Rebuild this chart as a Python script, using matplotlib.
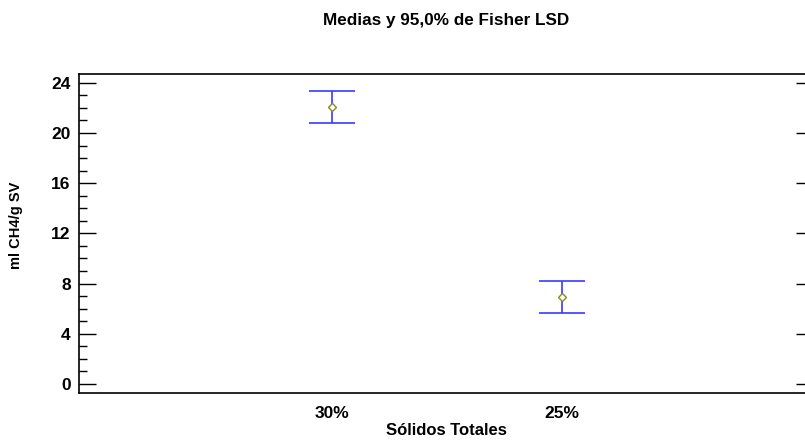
import matplotlib
matplotlib.use("Agg")
import matplotlib.pyplot as plt
from matplotlib.ticker import MultipleLocator

plt.rcParams['font.family'] = ['Liberation Sans', 'DejaVu Sans']
plt.rcParams['font.weight'] = 'bold'

# group means and 95% Fisher LSD half-widths
groups = ["30%", "25%"]
means = [22.05, 6.93]
lsd_half = [1.29, 1.28]

W, H = 805, 440
fig = plt.figure(figsize=(W / 100, H / 100), dpi=100)
# frame runs slightly past the right edge of the canvas
ax = fig.add_axes([79 / W, 1 - 393 / H, (813 - 79) / W, (393 - 74) / H])

xs = list(range(1, len(groups) + 1))
ax.errorbar(xs, means, yerr=lsd_half, fmt='none', ecolor='#3a3aff',
            elinewidth=1.2, capsize=16.5, capthick=1.2)
ax.plot(xs, means, linestyle='none', marker='D', markersize=4.5,
        markerfacecolor='white', markeredgecolor='#8c8c1e', markeredgewidth=1.0)

ax.set_xlim(-0.1, 3.09)
ax.set_ylim(-0.72, 24.7)
ax.set_xticks(xs)
ax.set_xticklabels(groups, fontsize=12.5, fontweight='bold')
ax.tick_params(axis='x', length=0, pad=9)

ax.yaxis.set_major_locator(MultipleLocator(4))
ax.yaxis.set_minor_locator(MultipleLocator(1))
ax.tick_params(axis='y', which='major', direction='in', length=12, width=1,
               labelsize=12.5, pad=6, right=True)
ax.tick_params(axis='y', which='minor', direction='in', length=6, width=1)
for lbl in ax.get_yticklabels():
    lbl.set_fontweight('bold')

for s in ax.spines.values():
    s.set_linewidth(1.2)

ax.set_xlabel("Sólidos Totales", fontsize=12, fontweight='bold', labelpad=2)
fig.text(16 / W, 1 - 225 / H, "ml CH4/g SV", rotation=90, ha='center',
         va='center', fontsize=10.5, fontweight='bold')
fig.text(446 / W, 1 - 21 / H, "Medias y 95,0% de Fisher LSD", ha='center',
         va='center', fontsize=12.3, fontweight='bold')

fig.savefig("out.png", dpi=100)
